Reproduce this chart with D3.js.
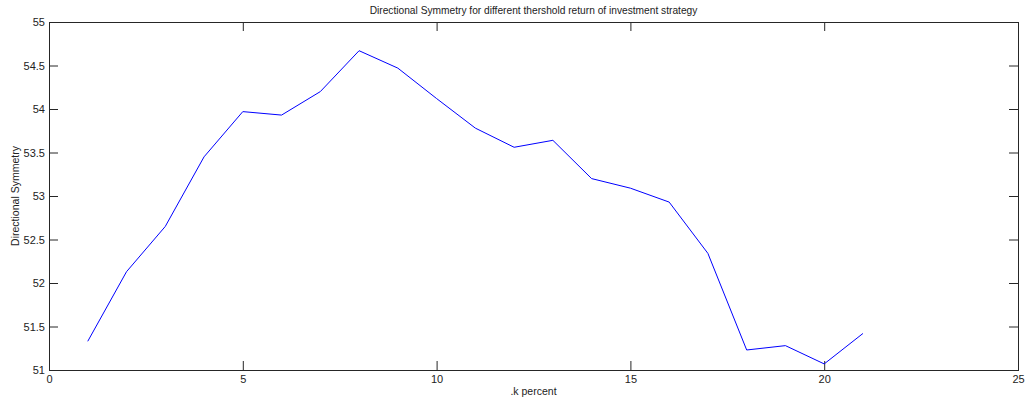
<!DOCTYPE html>
<html>
<head>
<meta charset="utf-8">
<script src="https://cdn.jsdelivr.net/npm/d3@7"></script>
<style>
  body { margin: 0; background: #fff; }
  svg { display: block; font-family: "Liberation Sans", Arial, sans-serif; }
</style>
</head>
<body>
<svg id="chart" width="1025" height="401"></svg>
<script>
// k percent thresholds and the measured directional symmetry
var kPercent = [1, 2, 3, 4, 5, 6, 7, 8, 9, 10, 11, 12, 13, 14, 15, 16, 17, 18, 19, 20, 21];
var symmetry = [51.33, 52.13, 52.65, 53.45, 53.97, 53.93, 54.2, 54.67, 54.47, 54.12, 53.78,
                53.56, 53.64, 53.2, 53.09, 52.93, 52.34, 51.23, 51.28, 51.07, 51.42];
var xTicks = [0, 5, 10, 15, 20, 25];
var yTicks = [51, 51.5, 52, 52.5, 53, 53.5, 54, 54.5, 55];

var svg = d3.select("#chart");
var margin = {top: 22, right: 7, bottom: 31, left: 49};
var width = 1025 - margin.left - margin.right;
var height = 401 - margin.top - margin.bottom;

var g = svg.append("g")
    .attr("transform", "translate(" + margin.left + "," + margin.top + ")");

var x = d3.scaleLinear().domain([0, 25]).range([0, width]);
var y = d3.scaleLinear().domain([51, 55]).range([height, 0]);

var data = kPercent.map(function(k, i) { return {x: k, y: symmetry[i]}; });

var axisColor = "#262626";
function style(sel) {
    sel.select(".domain").remove();
    sel.selectAll("line").attr("stroke", axisColor);
    sel.selectAll("text").attr("fill", "#222").style("font-size", "11px");
}

// bottom and left axes with inward ticks
g.append("g")
    .attr("transform", "translate(0," + height + ")")
    .call(d3.axisBottom(x).tickValues(xTicks).tickSizeInner(-9).tickPadding(5))
    .call(style);
g.append("g")
    .call(d3.axisLeft(y).tickValues(yTicks).tickSizeInner(-9).tickPadding(4).tickFormat(d3.format("")))
    .call(style);
// mirrored top and right ticks
g.append("g")
    .call(d3.axisTop(x).tickValues(xTicks).tickSizeInner(-9).tickFormat(""))
    .call(style);
g.append("g")
    .attr("transform", "translate(" + width + ",0)")
    .call(d3.axisRight(y).tickValues(yTicks).tickSizeInner(-9).tickFormat(""))
    .call(style);

// box
g.append("rect")
    .attr("x", 0.5).attr("y", 0.5)
    .attr("width", width).attr("height", height)
    .attr("fill", "none")
    .attr("stroke", axisColor);

var line = d3.line()
    .x(function(d) { return x(d.x); })
    .y(function(d) { return y(d.y); });

g.append("path")
    .datum(data)
    .attr("fill", "none")
    .attr("stroke", "#0000ff")
    .attr("stroke-width", 1)
    .attr("d", line);

svg.append("text")
    .attr("x", margin.left + width / 2)
    .attr("y", 14)
    .attr("text-anchor", "middle")
    .style("font-size", "10.2px")
    .attr("fill", "#222")
    .text("Directional Symmetry for different thershold return of investment strategy");

svg.append("text")
    .attr("x", margin.left + width / 2)
    .attr("y", 395)
    .attr("text-anchor", "middle")
    .style("font-size", "10.5px")
    .attr("fill", "#222")
    .text(".k percent");

svg.append("text")
    .attr("transform", "translate(19," + (margin.top + height / 2) + ") rotate(-90)")
    .attr("text-anchor", "middle")
    .style("font-size", "10.5px")
    .attr("fill", "#222")
    .text("Directional Symmetry");
</script>
</body>
</html>
